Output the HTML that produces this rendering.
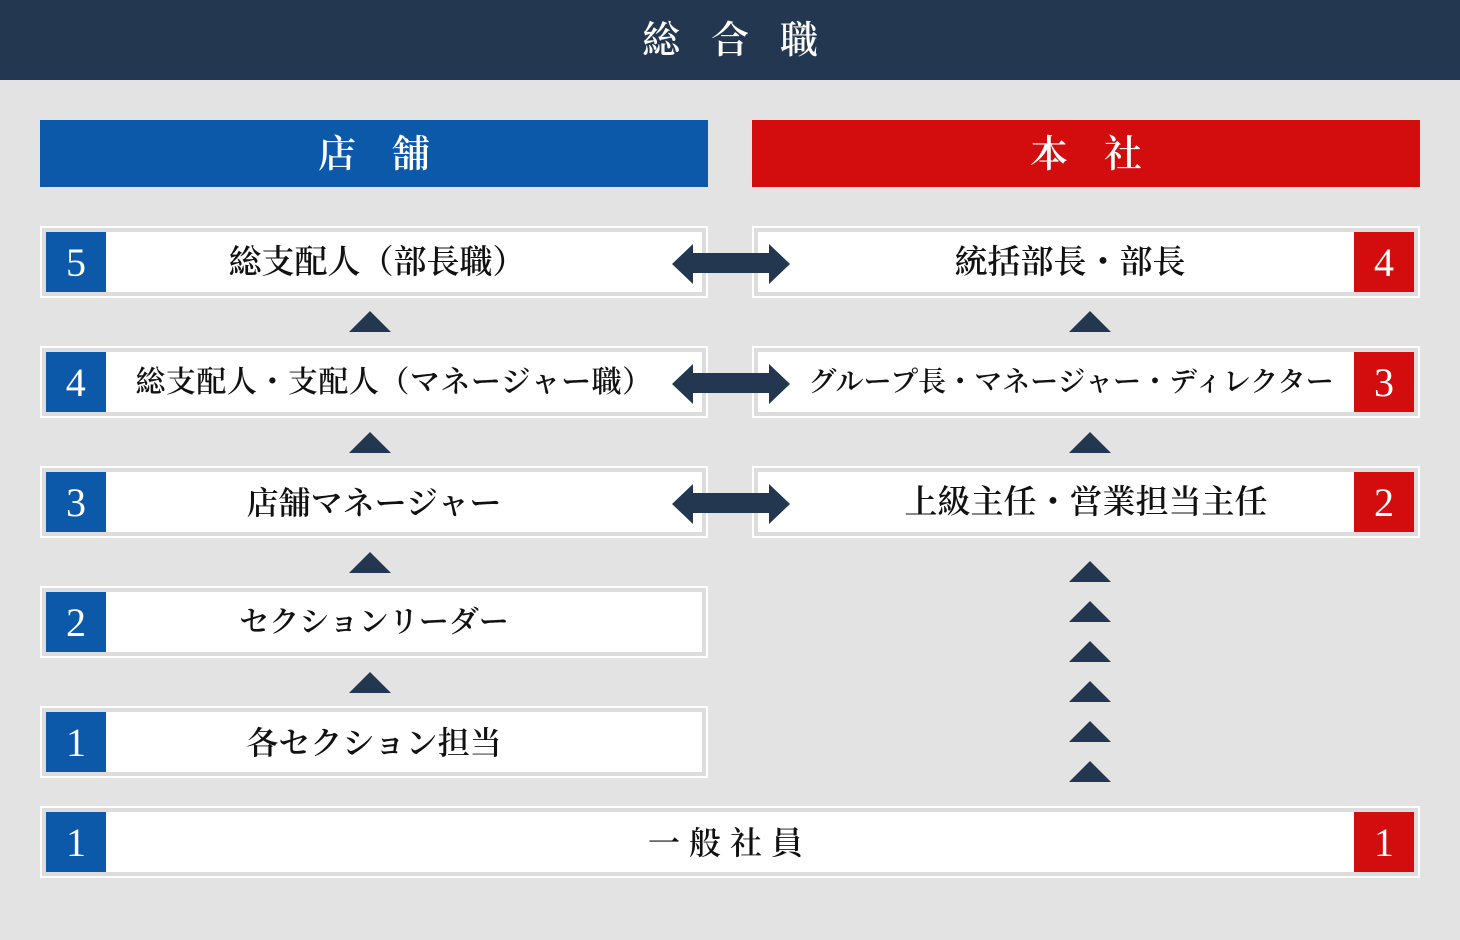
<!DOCTYPE html>
<html><head><meta charset="utf-8"><style>
*{margin:0;padding:0;box-sizing:border-box}
body{width:1460px;height:940px;position:relative;overflow:hidden;background:#e3e3e3;font-family:"Liberation Serif","Noto Serif CJK SC","Noto Serif CJK JP",serif}
.hdr{position:absolute;left:0;top:0;width:1460px;height:80px;background:#233850;color:#fff;font-size:38px;text-align:center;line-height:82px;letter-spacing:31px;text-indent:31px;font-weight:600}
.bar{position:absolute;top:120px;width:668px;height:67px;color:#fff;font-size:38px;text-align:center;line-height:70px;letter-spacing:36px;text-indent:36px;font-weight:600}
.box{position:absolute;height:72px;border:2px solid #fff;background:#dcdcdc;padding:4px}
.in{position:relative;width:100%;height:100%;background:#fff;text-align:center;line-height:62px;font-size:31px;color:#111;padding:0 60px;font-weight:600;white-space:nowrap}
.bd{position:absolute;top:0;width:60px;height:60px;color:#fff;font-size:40px;line-height:62px;text-align:center;font-family:"Liberation Serif",serif;font-weight:400}
.bl{left:0;background:#0b59a8}.br{right:0;background:#d30d0d}
.tri{position:absolute;width:0;height:0;border-left:21px solid transparent;border-right:21px solid transparent;border-bottom:21px solid #233850}
</style></head><body>
<div class="hdr">総合職</div>
<div class="bar" style="left:40px;background:#0b59a8">店舗</div>
<div class="bar" style="left:752px;background:#d30d0d">本社</div>

<div class="box" style="left:40px;top:226px;width:668px"><div class="in" style="font-size:33px;padding:0 0 0 6px"><div class="bd bl">5</div>総支配人（部長職）</div></div>
<div class="box" style="left:40px;top:346px;width:668px"><div class="in" style="font-size:30px;padding:0 20px 0 60px;letter-spacing:0.5px"><div class="bd bl">4</div>総支配人・支配人（マネージャー職）</div></div>
<div class="box" style="left:40px;top:466px;width:668px"><div class="in" style="font-size:32px;padding:0 0 0 0"><div class="bd bl">3</div>店舗マネージャー</div></div>
<div class="box" style="left:40px;top:586px;width:668px"><div class="in" style="font-size:30px;padding:0 0 0 0"><div class="bd bl">2</div>セクションリーダー</div></div>
<div class="box" style="left:40px;top:706px;width:668px"><div class="in" style="font-size:32px;padding:0 0 0 0"><div class="bd bl">1</div>各セクション担当</div></div>

<div class="box" style="left:752px;top:226px;width:668px"><div class="in" style="font-size:33px;padding:0 32px 0 0"><div class="bd br">4</div>統括部長・部長</div></div>
<div class="box" style="left:752px;top:346px;width:668px"><div class="in" style="font-size:28px;padding:0 30px 0 0"><div class="bd br">3</div>グループ長・マネージャー・ディレクター</div></div>
<div class="box" style="left:752px;top:466px;width:668px"><div class="in" style="font-size:33px;padding:0 0 0 0"><div class="bd br">2</div>上級主任・営業担当主任</div></div>

<div class="box" style="left:40px;top:806px;width:1380px"><div class="in" style="letter-spacing:9px;font-size:32px"><div class="bd bl" style="letter-spacing:0">1</div>一般社員<div class="bd br" style="letter-spacing:0">1</div></div></div>

<svg style="position:absolute;left:0;top:0" width="1460" height="940">
<g fill="#233850">
<polygon points="672,264 693,244 693,253 769,253 769,244 790,264 769,284 769,273 693,273 693,284"/>
<polygon transform="translate(0,120)" points="672,264 693,244 693,253 769,253 769,244 790,264 769,284 769,273 693,273 693,284"/>
<polygon transform="translate(0,240)" points="672,264 693,244 693,253 769,253 769,244 790,264 769,284 769,273 693,273 693,284"/>
</g>
</svg>
<div class="tri" style="left:349px;top:311px"></div>
<div class="tri" style="left:349px;top:432px"></div>
<div class="tri" style="left:349px;top:552px"></div>
<div class="tri" style="left:349px;top:672px"></div>
<div class="tri" style="left:1069px;top:311px"></div>
<div class="tri" style="left:1069px;top:432px"></div>
<div class="tri" style="left:1069px;top:561px"></div>
<div class="tri" style="left:1069px;top:601px"></div>
<div class="tri" style="left:1069px;top:641px"></div>
<div class="tri" style="left:1069px;top:681px"></div>
<div class="tri" style="left:1069px;top:721px"></div>
<div class="tri" style="left:1069px;top:761px"></div>
</body></html>
